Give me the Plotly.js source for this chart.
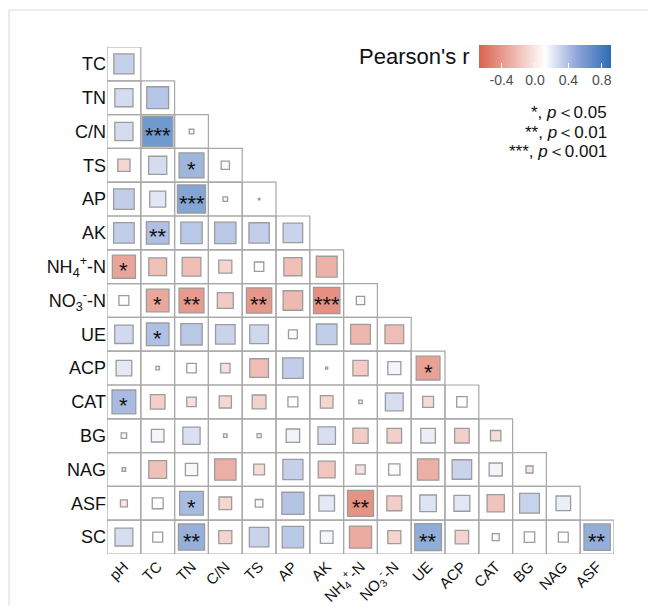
<!DOCTYPE html>
<html><head><meta charset="utf-8">
<script src="https://cdn.plot.ly/plotly-3.0.1.min.js"></script>
<style>body{margin:0;background:#fff}</style>
</head><body><div id="chart" style="width:648px;height:606px"></div>
<script>
// Row variables (top to bottom) and column variables (left to right)
const rowLabels = ['TC','TN','C/N','TS','AP','AK','NH<sub>4</sub><sup>+</sup>-N','NO<sub>3</sub><sup>-</sup>-N','UE','ACP','CAT','BG','NAG','ASF','SC'];
const colLabels = ['pH','TC','TN','C/N','TS','AP','AK','NH<sub>4</sub><sup>+</sup>-N','NO<sub>3</sub><sup>-</sup>-N','UE','ACP','CAT','BG','NAG','ASF'];

// Pearson's r, lower triangle (row i has i+1 values)
const corr = [
  [0.40],
  [0.33, 0.47],
  [0.33, 0.88, 0.03],
  [-0.16, 0.33, 0.60, 0.08],
  [0.42, 0.26, 0.76, 0.03, 0.005],
  [0.42, 0.50, 0.45, 0.45, 0.41, 0.38],
  [-0.52, -0.32, -0.35, -0.18, 0.10, -0.33, -0.43],
  [0.11, -0.50, -0.60, -0.26, -0.62, -0.38, -0.67, 0.08],
  [0.34, 0.50, 0.45, 0.38, 0.35, 0.09, 0.42, -0.39, -0.35],
  [0.25, 0.02, 0.10, -0.10, -0.35, 0.42, 0.01, -0.24, 0.18, -0.55],
  [0.55, -0.22, -0.10, -0.16, -0.20, 0.11, -0.17, 0.02, 0.32, -0.13, 0.12],
  [0.04, 0.17, 0.30, 0.02, 0.025, 0.19, 0.31, -0.24, -0.22, 0.22, -0.22, -0.12],
  [0.02, -0.32, 0.16, -0.45, -0.13, 0.40, -0.29, -0.10, 0.14, -0.45, 0.38, 0.18, -0.06],
  [-0.06, 0.13, 0.55, -0.17, 0.07, 0.48, 0.25, -0.65, -0.23, 0.28, 0.26, -0.30, 0.39, 0.22],
  [0.32, 0.11, 0.66, -0.18, 0.38, 0.45, 0.17, -0.48, -0.18, 0.69, -0.19, 0.06, 0.12, 0.11, 0.67]
];

// Significance marks, same shape as corr
const sig = [
  [''],
  ['', ''],
  ['', '***', ''],
  ['', '', '*', ''],
  ['', '', '***', '', ''],
  ['', '**', '', '', '', ''],
  ['*', '', '', '', '', '', ''],
  ['', '*', '**', '', '**', '', '***', ''],
  ['', '*', '', '', '', '', '', '', ''],
  ['', '', '', '', '', '', '', '', '', '*'],
  ['*', '', '', '', '', '', '', '', '', '', ''],
  ['', '', '', '', '', '', '', '', '', '', '', ''],
  ['', '', '', '', '', '', '', '', '', '', '', '', ''],
  ['', '', '*', '', '', '', '', '**', '', '', '', '', '', ''],
  ['', '', '**', '', '', '', '', '', '', '**', '', '', '', '', '**']
];

const sigLegend = ['*, <i>p</i>\uFF1C0.05', '**, <i>p</i>\uFF1C0.01', '***, <i>p</i>\uFF1C0.001'];
const cbTicks = [-0.4, 0.0, 0.4, 0.8];
const rMin = -0.67, rMax = 0.91;

const W = 648, H = 606;
const mL = 107, mR = 34, mT = 47, mB = 52;
const plotW = W - mL - mR, plotH = H - mT - mB;
const n = rowLabels.length;
const cellPx = plotW / n;
const FONT = 'Liberation Sans, Arial, sans-serif';

const xs = [], ys = [], cs = [], sz = [];
const shapes = [], annotations = [];
for (let i = 0; i < corr.length; i++) {
  for (let j = 0; j < corr[i].length; j++) {
    const r = corr[i][j];
    xs.push(j); ys.push(i); cs.push(r);
    sz.push(Math.max(Math.sqrt(Math.abs(r)) * cellPx - 1.3, 1.5));
    shapes.push({type:'rect', xref:'x', yref:'y', x0:j-0.5, x1:j+0.5, y0:i-0.5, y1:i+0.5,
      line:{color:'#a8a8a8', width:1.2}, fillcolor:'rgba(255,255,255,0)', layer:'below'});
    if (sig[i][j]) {
      annotations.push({x:j, y:i, xref:'x', yref:'y', text:sig[i][j], showarrow:false,
        yshift:-4, font:{family:FONT, size:22, color:'#111'}});
    }
  }
}
// outer figure frame
shapes.push({type:'rect', xref:'paper', yref:'paper',
  x0:(9 - mL)/plotW, x1:(W + 20 - mL)/plotW, y0:-(H + 20 - mT - plotH)/plotH, y1:1 + (mT - 10)/plotH,
  line:{color:'#d9d9d9', width:1}, fillcolor:'rgba(0,0,0,0)', layer:'below'});

annotations.push({xref:'paper', yref:'paper', x:(472 - mL)/plotW, y:1 + (mT - 57)/plotH,
  xanchor:'right', yanchor:'middle', text:"Pearson's r", showarrow:false,
  font:{family:FONT, size:22, color:'#111'}});
const legY = [112, 132, 152];
sigLegend.forEach((t, k) => {
  annotations.push({xref:'paper', yref:'paper', x:(609 - mL)/plotW, y:1 + (mT - legY[k])/plotH,
    xanchor:'right', yanchor:'middle', text:t, showarrow:false,
    font:{family:FONT, size:17, color:'#111'}});
});

const trace = {
  type:'scatter', mode:'markers', x:xs, y:ys, hoverinfo:'none',
  marker:{symbol:'square', size:sz, color:cs, cmin:rMin, cmax:rMax,
    colorscale:[[0,'#DA624E'],[0.5,'#FFFFFF'],[0.74,'#90A6D9'],[1,'#2E6BB5']],
    line:{color:'#737373', width:1.3},
    showscale:true,
    colorbar:{orientation:'h', x:(545 - mL)/plotW, xanchor:'center', y:1 + (mT - 45)/plotH, yanchor:'top',
      len:132, lenmode:'pixels', thickness:23, xpad:0, ypad:0, outlinewidth:0,
      tickvals:cbTicks, ticktext:cbTicks.map(v => v.toFixed(1)), ticks:'inside', tickcolor:'#ffffff', ticklen:5,
      tickfont:{family:FONT, size:14, color:'#4d4d4d'}}
  }
};

const layout = {
  width:W, height:H, margin:{l:mL, r:mR, t:mT, b:mB, pad:0},
  paper_bgcolor:'#fff', plot_bgcolor:'rgba(0,0,0,0)', showlegend:false,
  font:{family:FONT, color:'#111'},
  xaxis:{range:[-0.5, n-0.5], tickvals:colLabels.map((_, k) => k), ticktext:colLabels, tickangle:-45,
    showgrid:false, zeroline:false, showline:false, ticks:'', tickfont:{size:15, color:'#111'}, fixedrange:true},
  yaxis:{range:[n-0.5, -0.5], tickvals:rowLabels.map((_, k) => k), ticktext:rowLabels,
    showgrid:false, zeroline:false, showline:false, ticks:'', tickfont:{size:18, color:'#111'}, fixedrange:true},
  shapes:shapes, annotations:annotations
};

Plotly.newPlot('chart', [trace], layout, {staticPlot:true, displayModeBar:false});
</script>
</body></html>
